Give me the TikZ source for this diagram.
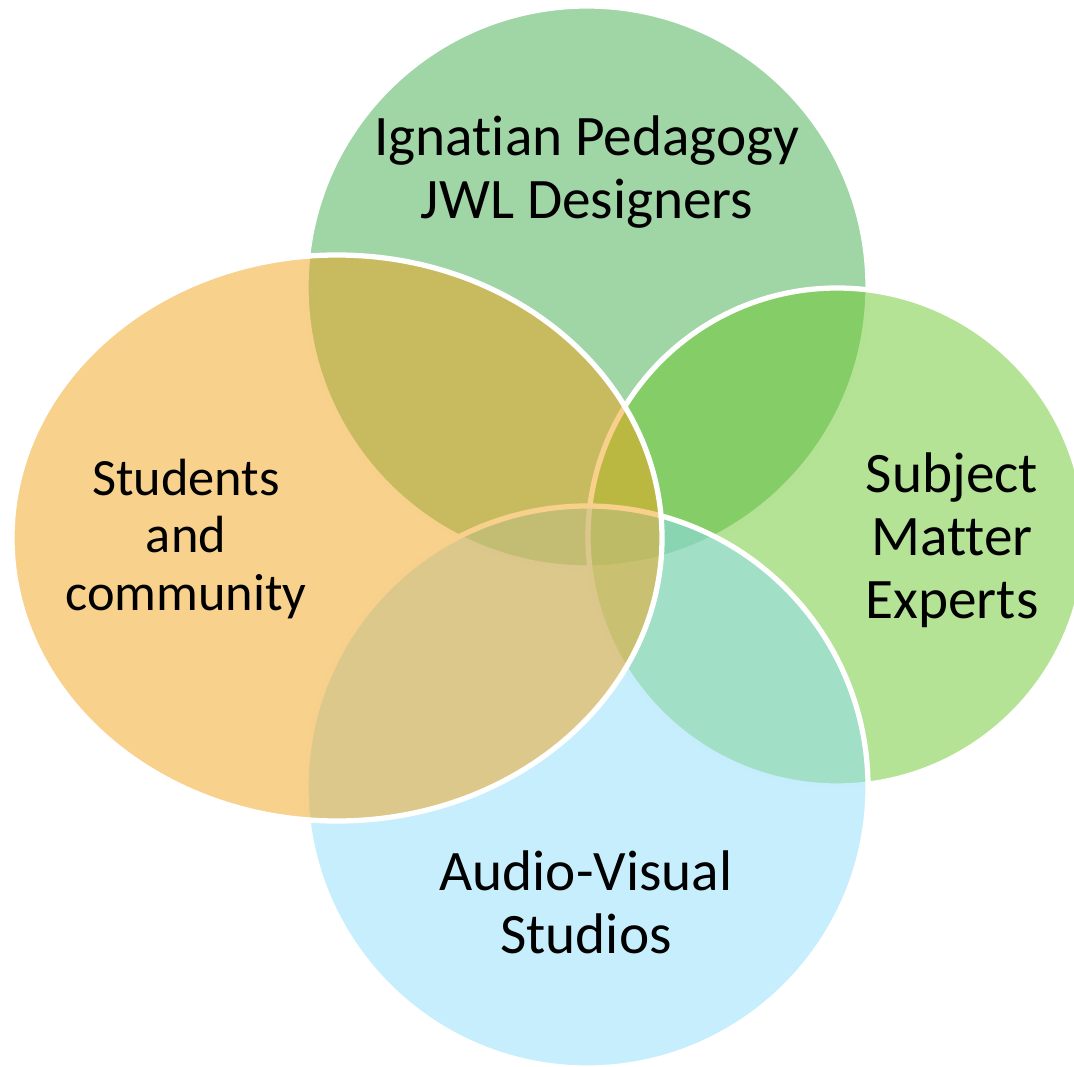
\documentclass[tikz,border=0pt]{standalone}
\usepackage{fontspec}
\setmainfont{Carlito}[Ligatures=NoCommon]
\definecolor{Sage}{RGB}{65,171,75}
\definecolor{Lime}{RGB}{107,199,43}
\definecolor{Sky}{RGB}{143,221,251}
\definecolor{Amber}{RGB}{241,163,27}

\begin{document}
\begin{tikzpicture}[x=0.02cm, y=-0.02cm,
	blob/.style={draw=white, line width=3pt, fill opacity=0.5},
	biglabel/.style={align=center, inner sep=0pt, font=\fontsize{32.6}{36}\selectfont},
	smalllabel/.style={align=center, inner sep=0pt, font=\fontsize{29.8}{32.6}\selectfont}]
	\useasboundingbox (0,0) rectangle (1074,1067);
	\filldraw[blob, fill=Sage] (587,287) circle (281);
	\filldraw[blob, fill=Lime] (837,537) circle (249);
	\filldraw[blob, fill=Sky] (587,787) circle (281);
	\filldraw[blob, fill=Amber] (337,538) ellipse (325 and 283);
	\node[biglabel] (pedagogy) at (587,172) {Ignatian Pedagogy\\JWL Designers};
	\node[biglabel] (experts) at (952,540) {Subject\\Matter\\Experts};
	\node[biglabel] (studios) at (586,902) {Audio-Visual\\Studios};
	\node[smalllabel] (students) at (186,539) {Students\\and\\community};
\end{tikzpicture}
\end{document}
